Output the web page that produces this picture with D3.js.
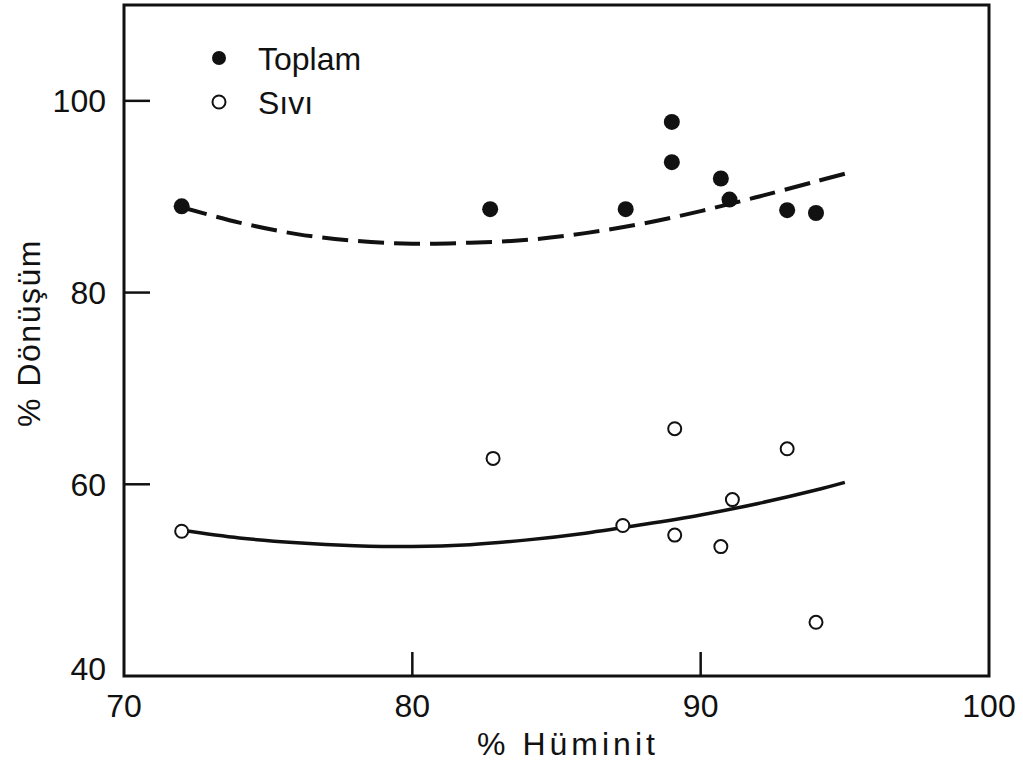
<!DOCTYPE html>
<html>
<head>
<meta charset="utf-8">
<script src="https://cdn.jsdelivr.net/npm/d3@7"></script>
<style>
html,body{margin:0;padding:0;background:#fff;}
svg text{font-family:"Liberation Sans",Arial,sans-serif;fill:#111;}
</style>
</head>
<body>
<svg id="chart" width="1023" height="765"></svg>
<script>
// Data
const toplamX = [72.0, 82.7, 87.4, 89.0, 89.0, 90.7, 91.0, 93.0, 94.0];
const toplamY = [89.0, 88.7, 88.7, 97.8, 93.6, 91.9, 89.7, 88.6, 88.3];
const siviX = [72.0, 82.8, 87.3, 89.1, 89.1, 90.7, 91.1, 93.0, 94.0];
const siviY = [55.1, 62.7, 55.7, 65.8, 54.7, 53.5, 58.4, 63.7, 45.6];
// fitted curves as drawn
const fitTopX = [72, 74, 76, 78, 80, 82, 84, 86, 88, 90, 92, 94, 95];
const fitTopY = [88.9, 87.3, 86.1, 85.4, 85.1, 85.2, 85.5, 86.2, 87.2, 88.5, 90.0, 91.6, 92.4];
const fitSivX = [72, 74, 76, 78, 80, 82, 84, 86, 88, 90, 92, 94, 95];
const fitSivY = [55.2, 54.4, 53.9, 53.6, 53.5, 53.7, 54.2, 54.9, 55.8, 56.8, 58.0, 59.4, 60.2];
const xTicks = [70, 80, 90, 100];
const yTicks = [40, 60, 80, 100];
const legendLabels = ["Toplam", "Sıvı"];
const xTitle = "% Hüminit";
const yTitle = "% Dönüşüm";

const svg = d3.select("#chart");
const x = d3.scaleLinear().domain([70, 100]).range([124, 989]);
const y = d3.scaleLinear().domain([40, 110]).range([676, 5]);

// frame
svg.append("rect").attr("x", x(70)).attr("y", y(110))
  .attr("width", x(100) - x(70)).attr("height", y(40) - y(110))
  .attr("fill", "none").attr("stroke", "#111").attr("stroke-width", 3);

// inward ticks
svg.selectAll(".yt").data(yTicks.filter(d => d > 40)).enter().append("line")
  .attr("x1", x(70)).attr("x2", x(70) + 26)
  .attr("y1", d => y(d)).attr("y2", d => y(d))
  .attr("stroke", "#111").attr("stroke-width", 2.5);
svg.selectAll(".xt").data(xTicks.filter(d => d > 70 && d < 100)).enter().append("line")
  .attr("x1", d => x(d)).attr("x2", d => x(d))
  .attr("y1", y(40)).attr("y2", y(40) - 24)
  .attr("stroke", "#111").attr("stroke-width", 2.5);

// tick labels
svg.selectAll(".yl").data(yTicks).enter().append("text")
  .attr("x", 106).attr("y", d => y(d) - (d === 40 ? 8 : 0)).attr("dy", "0.36em")
  .attr("text-anchor", "end").attr("font-size", 32)
  .text(d => d);
svg.selectAll(".xl").data(xTicks).enter().append("text")
  .attr("x", d => x(d)).attr("y", 717)
  .attr("text-anchor", "middle").attr("font-size", 32)
  .text(d => d);

// axis titles
svg.append("text").attr("x", 568).attr("y", 755)
  .attr("text-anchor", "middle").attr("font-size", 32)
  .attr("letter-spacing", 4).text(xTitle);
svg.append("text").attr("transform", "translate(40,333) rotate(-90)")
  .attr("text-anchor", "middle").attr("font-size", 32)
  .attr("letter-spacing", 1.5).text(yTitle);

// fit curves
const line = d3.line().x(d => x(d[0])).y(d => y(d[1])).curve(d3.curveCatmullRom);
svg.append("path").datum(d3.zip(fitTopX, fitTopY)).attr("d", line)
  .attr("fill", "none").attr("stroke", "#111").attr("stroke-width", 4)
  .attr("stroke-dasharray", "26,10");
svg.append("path").datum(d3.zip(fitSivX, fitSivY)).attr("d", line)
  .attr("fill", "none").attr("stroke", "#111").attr("stroke-width", 3.5);

// points
svg.selectAll(".tp").data(d3.zip(toplamX, toplamY)).enter().append("circle")
  .attr("cx", d => x(d[0])).attr("cy", d => y(d[1])).attr("r", 8)
  .attr("fill", "#111");
svg.selectAll(".sp").data(d3.zip(siviX, siviY)).enter().append("circle")
  .attr("cx", d => x(d[0])).attr("cy", d => y(d[1])).attr("r", 6.5)
  .attr("fill", "#fff").attr("stroke", "#111").attr("stroke-width", 2);

// legend
const lg = svg.append("g");
lg.append("circle").attr("cx", 219).attr("cy", 58).attr("r", 7).attr("fill", "#111");
lg.append("circle").attr("cx", 219).attr("cy", 102).attr("r", 6.5)
  .attr("fill", "#fff").attr("stroke", "#111").attr("stroke-width", 2);
lg.selectAll("text").data(legendLabels).enter().append("text")
  .attr("x", 258).attr("y", (d, i) => 58 + i * 44).attr("dy", "0.36em")
  .attr("font-size", 32).attr("letter-spacing", 0).text(d => d);
</script>
</body>
</html>
